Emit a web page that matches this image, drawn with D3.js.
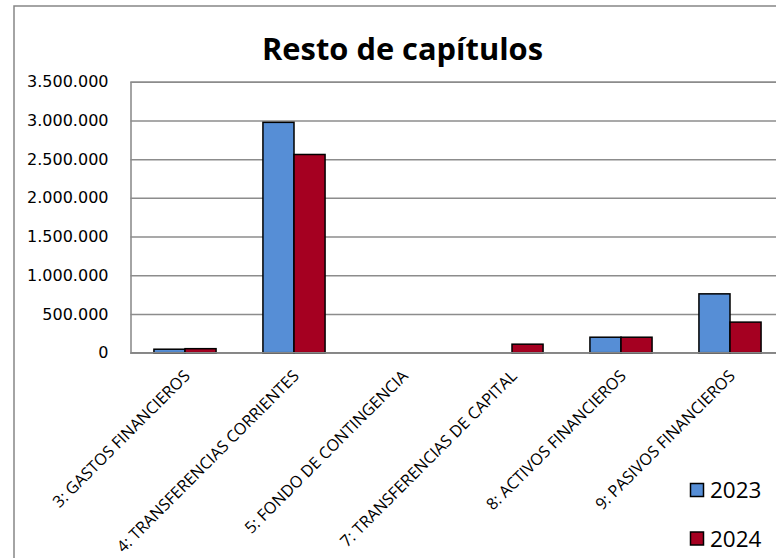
<!DOCTYPE html>
<html><head><meta charset="utf-8">
<script src="https://cdn.jsdelivr.net/npm/d3@7"></script>
<style>html,body{margin:0;padding:0;background:#fff;overflow:hidden}</style>
</head><body>
<svg id="c" width="776" height="558"></svg>
<script>
const categories = ["3: GASTOS FINANCIEROS","4: TRANSFERENCIAS CORRIENTES","5: FONDO DE CONTINGENCIA","7: TRANSFERENCIAS DE CAPITAL","8: ACTIVOS FINANCIEROS","9: PASIVOS FINANCIEROS"];
const series = ["2023","2024"];
const values2023 = [45000, 2975000, 0, 0, 200000, 760000];
const values2024 = [52000, 2560000, 0, 110000, 200000, 395000];
const yTicks = [0,500000,1000000,1500000,2000000,2500000,3000000,3500000];
const colors = ["#568ED6","#A50021"];

const svg = d3.select("#c");
const pLeft = 130.5, pRight = 784.5, pTop = 81.7, pBottom = 352.7;

// chart frame
svg.append("path").attr("d","M14,560V6H780").attr("fill","none").attr("stroke","#868686").attr("stroke-width",1.5);

const title = svg.append("text").attr("x",402.5).attr("y",60).attr("text-anchor","middle")
  .attr("font-family","Open Sans").attr("font-weight","bold").attr("font-size",26)
  .text("Resto de capítulos");
// fit title width to the reference span
const tw = title.node().getComputedTextLength();
title.attr("font-size", 26 * 281 / tw);

const y = d3.scaleLinear().domain([0,3500000]).range([pBottom, pTop]);
const x = d3.scaleBand().domain(categories).range([pLeft,pRight]).paddingInner(0.43).paddingOuter(0.215);
const xs = d3.scaleBand().domain(series).range([0, x.bandwidth()]);

const fmt = d => d3.format(",")(d).replace(/,/g,".");
const gy = svg.append("g").attr("transform",`translate(${pLeft},0)`)
  .call(d3.axisLeft(y).tickValues(yTicks).tickFormat(fmt).tickSize(-(pRight-pLeft)).tickPadding(22));
gy.select(".domain").attr("stroke","#868686").attr("stroke-width",1.5);
gy.selectAll(".tick line").attr("stroke","#8c8c8c").attr("stroke-width",1.5);
gy.selectAll(".tick text").attr("font-family","DejaVu Sans").attr("font-size",16).attr("fill","#000");

const data = [values2023, values2024];
series.forEach((s,i)=>{
  svg.append("g").selectAll("rect").data(categories).join("rect")
    .attr("x", c => x(c) + xs(s))
    .attr("width", xs.bandwidth())
    .attr("y", (c,j) => y(data[i][j]))
    .attr("height", (c,j) => pBottom - y(data[i][j]))
    .attr("fill", colors[i]).attr("stroke","#000").attr("stroke-width",1.5)
    .attr("display",(c,j)=> data[i][j] > 0 ? null : "none");
});

// baseline
svg.append("line").attr("x1",pLeft).attr("x2",pRight).attr("y1",pBottom).attr("y2",pBottom)
  .attr("stroke","#868686").attr("stroke-width",1.5);

// category labels
svg.append("g").selectAll("text").data(categories).join("text")
  .attr("transform", c => `translate(${x(c)+x.bandwidth()/2+6},377) rotate(-45)`)
  .attr("text-anchor","end")
  .attr("font-family","Open Sans").attr("font-size",16.2)
  .text(c=>c);

// legend
const lg = svg.append("g");
series.forEach((s,i)=>{
  lg.append("rect").attr("x",690.5).attr("y",483.5+i*48.5).attr("width",13).attr("height",13)
    .attr("fill",colors[i]).attr("stroke","#000").attr("stroke-width",1.5);
  lg.append("text").attr("x",710).attr("y",498+i*48.5).attr("font-family","Open Sans").attr("font-size",22.5).text(s);
});
</script>
</body></html>
